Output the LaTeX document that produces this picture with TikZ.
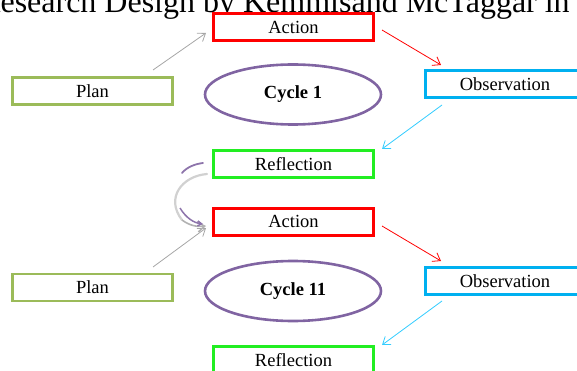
\documentclass[tikz,border=0pt]{standalone}
\usepackage{fontspec}
\setmainfont{Liberation Serif}
\usetikzlibrary{arrows.meta,shapes.geometric}
\definecolor{planG}{HTML}{9BBB59}
\definecolor{reflG}{HTML}{22EE22}
\definecolor{obsB}{HTML}{00B0F0}
\definecolor{cycP}{HTML}{8064A2}
\definecolor{arrB}{HTML}{33CCFF}
\definecolor{arrG}{HTML}{A6A6A6}
\tikzset{
  box/.style={draw, line width=3pt, minimum width=160pt, minimum height=27pt, inner sep=0pt, fill=white,
    font=\fontsize{18.5}{22}\selectfont},
  actbox/.style={box, draw=red},
  planbox/.style={box, draw=planG, line width=2.6pt},
  obsbox/.style={box, draw=obsB},
  reflbox/.style={box, draw=reflG},
  cycnode/.style={ellipse, draw=cycP, line width=2.6pt, minimum width=176pt, minimum height=60pt, inner sep=0pt,
    font=\fontsize{18.5}{22}\selectfont\bfseries},
  tip/.style={-{Straight Barb[length=7pt,width=10pt]}},
  conn/.style={tip, line width=0.8pt},
}
\begin{document}
\begin{tikzpicture}[x=1pt,y=-1pt]
\useasboundingbox (0,0) rectangle (577,371);
\clip (0,0) rectangle (577,371);
\node[anchor=base west, font=\fontsize{32}{36}\selectfont, inner sep=0pt] (title) at (-21,12.5) {Research Design by Kemmisand McTaggar in};

% cycle 1
\node[actbox] (act1) at (293.5,27) {Action};
\node[planbox] (plan1) at (92.5,91) {Plan};
\node[obsbox] (obs1) at (505,84) {Observation};
\node[reflbox] (refl1) at (293.5,164.5) {Reflection};
\node[cycnode] (cyc1) at (293,94.5) {Cycle 1};

% cycle 2
\node[actbox] (act2) at (293.5,221.5) {Action};
\node[planbox] (plan2) at (92.5,287.5) {Plan};
\node[obsbox] (obs2) at (505,281) {Observation};
\node[reflbox] (refl2) at (293.5,360) {Reflection};
\node[cycnode] (cyc2) at (293,291) {Cycle 11};

% arrow end points
\coordinate (p1s) at (153,70);  \coordinate (p1e) at (206,33);
\coordinate (a1s) at (382,30);  \coordinate (a1e) at (441,65);
\coordinate (o1s) at (442,105); \coordinate (o1e) at (382,149);
\coordinate (p2s) at (153,267); \coordinate (p2e) at (206,228);
\coordinate (a2s) at (382,226); \coordinate (a2e) at (441,261);
\coordinate (o2s) at (442,301); \coordinate (o2e) at (382,345);

\draw[conn, draw=arrG] (p1s) -- (p1e);
\draw[conn, draw=red] (a1s) -- (a1e);
\draw[conn, draw=arrB] (o1s) -- (o1e);
\draw[conn, draw=arrG] (p2s) -- (p2e);
\draw[conn, draw=red] (a2s) -- (a2e);
\draw[conn, draw=arrB] (o2s) -- (o2e);

% curved return arrow Reflection -> Action
\coordinate (rs) at (207,174);
\coordinate (re) at (206,226);
\draw[line width=2.2pt, draw=black!18, line cap=round] (rs) .. controls (182,176) and (165,198) .. (182,220);
\draw[line width=1.6pt, draw=black!30, tip] (182,220) .. controls (190,226) and (198,227) .. (re);
\draw[line width=1.8pt, draw=cycP!90, line cap=round] (203,163) .. controls (195,164) and (187,167) .. (182,173);
\draw[line width=1.5pt, draw=cycP!90, -{Straight Barb[length=4pt,width=5pt]}] (180,208) .. controls (186,218) and (194,223) .. (203,224);
\end{tikzpicture}
\end{document}
